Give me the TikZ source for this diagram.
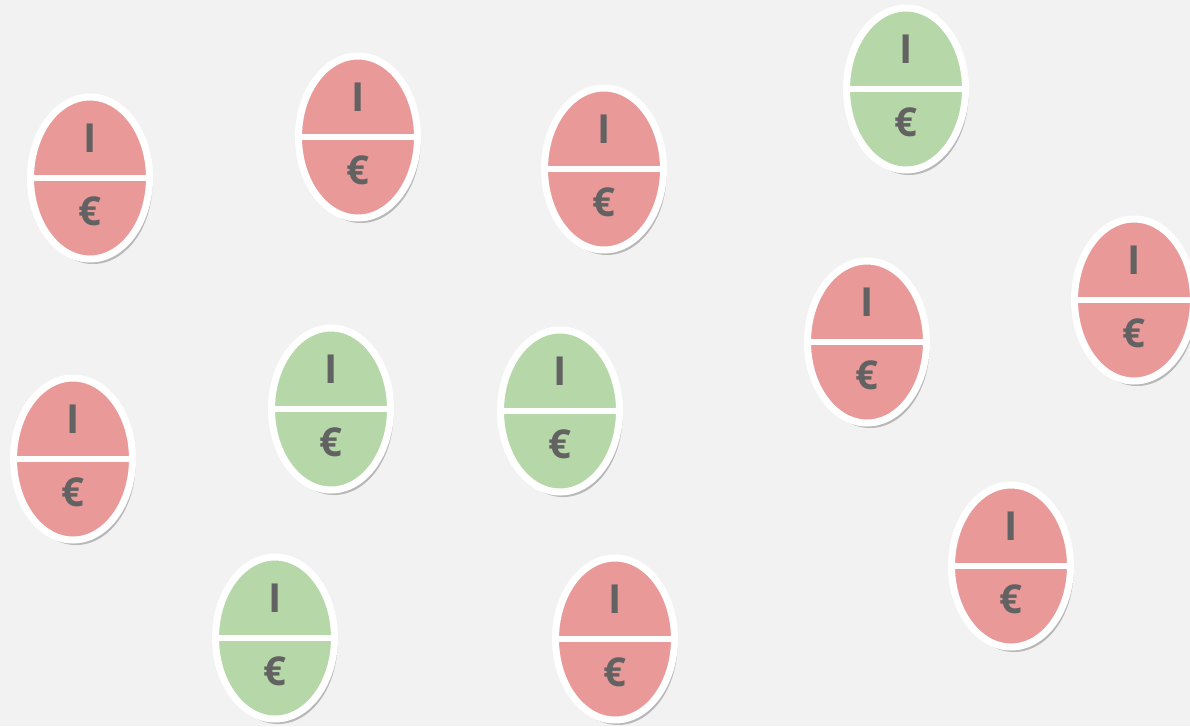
\documentclass[tikz,border=0pt]{standalone}
\usepackage{fontspec}
\setmainfont{Open Sans}
\usetikzlibrary{shapes.geometric,shadows}
\definecolor{bg}{HTML}{F2F2F2}
\definecolor{coinred}{HTML}{EA9999}
\definecolor{coingreen}{HTML}{B6D7A8}
\definecolor{txt}{HTML}{626262}
\tikzset{
  coin/.style={ellipse, draw=white, line width=7pt, minimum width=119pt, minimum height=162pt, inner sep=0pt,
    drop shadow={shadow xshift=3pt, shadow yshift=-5pt, opacity=0.3, fill=black!80}},
  divider/.style={draw=white, line width=6pt},
  lbl/.style={text=txt, font=\fontsize{40}{40}\selectfont\bfseries, inner sep=0pt}
}
\newcommand{\coin}[4]{%
  \node[coin, fill=#4] (#1) at (#2,#3) {};
  \draw[divider] (#1.west) -- (#1.east);
  \node[lbl] (#1i) at ([yshift=40pt]#1.center) {I};
  \node[lbl] (#1e) at ([yshift=-33pt]#1.center) {€};
}
\begin{document}
\begin{tikzpicture}[x=1pt,y=-1pt]
\fill[bg] (0,0) rectangle (1190,726);
\useasboundingbox (0,0) rectangle (1190,726);
\coin{c1}{90}{178}{coinred}
\coin{c2}{358}{137}{coinred}
\coin{c3}{604}{169}{coinred}
\coin{c4}{906}{89}{coingreen}
\coin{c5}{1134}{300}{coinred}
\coin{c6}{867}{342}{coinred}
\coin{c7}{73}{459}{coinred}
\coin{c8}{331}{409}{coingreen}
\coin{c9}{560}{411}{coingreen}
\coin{c10}{275}{638}{coingreen}
\coin{c11}{615}{639}{coinred}
\coin{c12}{1011}{566}{coinred}
\end{tikzpicture}
\end{document}
